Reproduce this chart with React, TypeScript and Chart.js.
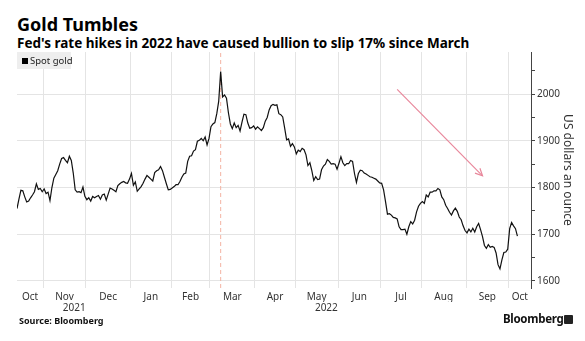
import React, { useEffect, useRef } from "react";
import { Chart, registerables } from "chart.js";

Chart.register(...registerables);

// x values are weekday indices counted from Fri 1 Oct 2021 (index 0)
const firstIndex = 7;
const spotGold = [
  1755, 1775, 1794, 1793, 1780, 1769, 1771, 1778, 1784, 1791,
  1808, 1796, 1798, 1791, 1797, 1787, 1790, 1772, 1800, 1820,
  1828, 1836, 1850, 1862, 1864, 1858, 1853, 1867, 1858, 1831,
  1795, 1790, 1791, 1789, 1801, 1781, 1774, 1778, 1771, 1781,
  1778, 1781, 1783, 1775, 1784, 1786, 1773, 1786, 1799, 1797,
  1794, 1791, 1804, 1808, 1811, 1813, 1810, 1809, 1818, 1830,
  1805, 1812, 1792, 1797, 1802, 1809, 1818, 1826, 1822, 1818,
  1814, 1832, 1836, 1838, 1845, 1836, 1822, 1808, 1795, 1796,
  1799, 1802, 1806, 1806, 1813, 1822, 1829, 1831, 1856, 1867,
  1868, 1878, 1881, 1899, 1901, 1905, 1900, 1908, 1891, 1905,
  1930, 1936, 1939, 1958, 1985, 2048, 1994, 1998, 1991, 1960,
  1936, 1926, 1938, 1928, 1933, 1921, 1940, 1957, 1956, 1938,
  1927, 1928, 1932, 1925, 1930, 1926, 1922, 1928, 1942, 1950,
  1966, 1975, 1978, 1976, 1977, 1958, 1956, 1951, 1927, 1902,
  1904, 1888, 1894, 1887, 1872, 1880, 1877, 1884, 1881, 1870,
  1847, 1853, 1836, 1815, 1823, 1817, 1818, 1838, 1846, 1850,
  1860, 1856, 1850, 1851, 1850, 1839, 1852, 1866, 1853, 1847,
  1851, 1851, 1858, 1856, 1830, 1811, 1830, 1837, 1836, 1831,
  1829, 1826, 1823, 1822, 1820, 1818, 1814, 1810, 1809, 1795,
  1770, 1743, 1744, 1741, 1736, 1735, 1733, 1716, 1710, 1710,
  1711, 1700, 1716, 1727, 1722, 1730, 1748, 1760, 1766, 1770,
  1766, 1784, 1780, 1790, 1790, 1793, 1793, 1798, 1795, 1780,
  1774, 1762, 1755, 1747, 1741, 1750, 1756, 1749, 1737, 1731,
  1718, 1708, 1703, 1711, 1705, 1713, 1705, 1716, 1723, 1710,
  1695, 1676, 1670, 1678, 1672, 1674, 1672, 1660, 1635, 1626,
  1645, 1661, 1662, 1668, 1712, 1725, 1718, 1712, 1696,
];

const monthLabels = ["Oct", "Nov", "Dec", "Jan", "Feb", "Mar", "Apr", "May", "Jun", "Jul", "Aug", "Sep", "Oct"];
const monthWeekdays = [21, 22, 23, 21, 20, 23, 21, 22, 22, 21, 23, 22, 21];
const yearLabels = ["2021", "2022"];
const yearMonthSlots = [1, 7];

const xMin = 7;
const xMax = 272;
const yMin = 1585;
const yMax = 2090;
const yTickValues = [1600, 1650, 1700, 1750, 1800, 1850, 1900, 1950, 2000, 2050];

const peakIndex = 112; // 8 Mar 2022
const arrowFrom = { x: 203, y: 2010 };
const arrowTo = { x: 247, y: 1825 };

const LABEL_FONT = '"Noto Sans", "DejaVu Sans", sans-serif';

// month boundaries in weekday index space
const boundaries: number[] = [];
{
  let acc = -0.5;
  boundaries.push(acc);
  for (const n of monthWeekdays) {
    acc += n;
    boundaries.push(acc);
  }
}
const gridBoundaries = boundaries.slice(1).filter((b) => b > xMin && b < xMax);
const monthCenters = monthLabels.map((_, i) => {
  const a = Math.max(boundaries[i], xMin);
  const b = Math.min(boundaries[i + 1], xMax);
  return (a + b) / 2;
});
const yearCenters = yearMonthSlots.map((m) => monthCenters[m] + 5);

const arrowHeadPlugin = {
  id: "arrowHead",
  afterDatasetsDraw(chart: any) {
    const xs = chart.scales.x;
    const ys = chart.scales.y;
    const x1 = xs.getPixelForValue(arrowFrom.x);
    const y1 = ys.getPixelForValue(arrowFrom.y);
    const x2 = xs.getPixelForValue(arrowTo.x);
    const y2 = ys.getPixelForValue(arrowTo.y);
    const ang = Math.atan2(y2 - y1, x2 - x1);
    const len = 8;
    const spread = 0.45;
    const c = chart.ctx;
    c.save();
    c.strokeStyle = "#e8879b";
    c.lineWidth = 1.2;
    c.beginPath();
    c.moveTo(x2 - len * Math.cos(ang - spread), y2 - len * Math.sin(ang - spread));
    c.lineTo(x2, y2);
    c.lineTo(x2 - len * Math.cos(ang + spread), y2 - len * Math.sin(ang + spread));
    c.stroke();
    c.restore();
  },
};

export default function App() {
  const canvasRef = useRef<HTMLCanvasElement | null>(null);

  useEffect(() => {
    const canvas = canvasRef.current;
    if (!canvas) return;
    const chart = new Chart(canvas, {
      type: "line",
      data: {
        datasets: [
          {
            label: "Spot gold",
            data: spotGold.map((v, i) => ({ x: firstIndex + i, y: v })),
            borderColor: "#111111",
            borderWidth: 1.2,
            pointRadius: 0,
            tension: 0,
            order: 0,
          },
          {
            label: "arrow",
            data: [arrowFrom, arrowTo],
            borderColor: "#e8879b",
            borderWidth: 1.2,
            pointRadius: 0,
            order: 1,
          },
          {
            label: "peak",
            data: [
              { x: peakIndex, y: yMin },
              { x: peakIndex, y: yMax },
            ],
            borderColor: "#f3b3a3",
            borderWidth: 1,
            borderDash: [4, 3],
            pointRadius: 0,
            order: 2,
          },
        ],
      },
      options: {
        animation: false,
        responsive: false,
        maintainAspectRatio: false,
        layout: { padding: { left: 17, top: 52, right: 0, bottom: 27 } },
        plugins: { legend: { display: false }, tooltip: { enabled: false } },
        scales: {
          x: {
            type: "linear",
            position: "bottom",
            min: xMin,
            max: xMax,
            weight: 0,
            afterBuildTicks: (s: any) => {
              s.ticks = gridBoundaries.map((v) => ({ value: v }));
            },
            ticks: { display: false },
            grid: { color: "#e4e4e4", lineWidth: 1, drawTicks: false },
            border: { display: false },
            afterFit: (s: any) => {
              s.height = 0;
            },
          },
          xm: {
            type: "linear",
            position: "bottom",
            min: xMin,
            max: xMax,
            weight: 1,
            afterBuildTicks: (s: any) => {
              s.ticks = monthCenters.map((v) => ({ value: v }));
            },
            ticks: {
              autoSkip: false,
              maxRotation: 0,
              padding: 3,
              color: "#333",
              font: { family: LABEL_FONT, size: 10 },
              callback: (_v: any, i: number) => monthLabels[i],
            },
            grid: { display: false, drawTicks: false },
            border: { display: false },
            afterFit: (s: any) => {
              s.height = 14;
            },
          },
          xy: {
            type: "linear",
            position: "bottom",
            min: xMin,
            max: xMax,
            weight: 2,
            afterBuildTicks: (s: any) => {
              s.ticks = yearCenters.map((v) => ({ value: v }));
            },
            ticks: {
              autoSkip: false,
              maxRotation: 0,
              padding: 0,
              color: "#333",
              font: { family: LABEL_FONT, size: 10 },
              callback: (_v: any, i: number) => yearLabels[i],
            },
            grid: { display: false, drawTicks: false },
            border: { display: false },
            afterFit: (s: any) => {
              s.height = 12;
            },
          },
          y: {
            type: "linear",
            position: "right",
            min: yMin,
            max: yMax,
            afterBuildTicks: (s: any) => {
              s.ticks = yTickValues.map((v) => ({ value: v }));
            },
            ticks: {
              autoSkip: false,
              padding: 2,
              color: "#333",
              font: { family: LABEL_FONT, size: 10 },
              callback: (v: any) => (Number(v) % 100 === 0 ? String(v) : ""),
            },
            grid: {
              color: (ctx: any) =>
                ctx.tick && ctx.tick.value % 100 === 0 ? "#e4e4e4" : "rgba(0,0,0,0)",
              tickColor: "#444",
              tickLength: 4,
              drawTicks: true,
            },
            border: { display: true, color: "#444", width: 1 },
            title: {
              display: true,
              text: "US dollars an ounce",
              color: "#333",
              font: { family: LABEL_FONT, size: 12 },
              padding: { top: 10, bottom: 0 },
            },
            afterFit: (s: any) => {
              s.width = 54;
            },
          },
        },
      },
      plugins: [arrowHeadPlugin],
    } as any);
    return () => chart.destroy();
  }, []);

  return (
    <div
      style={{
        position: "absolute",
        left: 0,
        top: 0,
        width: 585,
        height: 341,
        background: "#ffffff",
        overflow: "hidden",
        fontFamily: LABEL_FONT,
      }}
    >
      <div
        style={{
          position: "absolute",
          left: 17,
          top: 15,
          font: `bold 18px ${LABEL_FONT}`,
          lineHeight: "18px",
          color: "#000",
          whiteSpace: "nowrap",
        }}
      >
        Gold Tumbles
      </div>
      <div
        style={{
          position: "absolute",
          left: 17,
          top: 37,
          font: `bold 13.5px ${LABEL_FONT}`,
          lineHeight: "13.5px",
          color: "#000",
          whiteSpace: "nowrap",
        }}
      >
        Fed's rate hikes in 2022 have caused bullion to slip 17% since March
      </div>
      <canvas
        ref={canvasRef}
        width={585}
        height={341}
        style={{ position: "absolute", left: 0, top: 0, width: 585, height: 341 }}
      />
      <div
        style={{
          position: "absolute",
          left: 17,
          top: 52,
          width: 54,
          height: 17,
          background: "#eeeeee",
          display: "flex",
          alignItems: "center",
          font: `9.5px ${LABEL_FONT}`,
          color: "#222",
          whiteSpace: "nowrap",
        }}
      >
        <span
          style={{
            display: "inline-block",
            flexShrink: 0,
            width: 6,
            height: 6,
            background: "#000",
            marginLeft: 5,
            marginRight: 2,
          }}
        />
        <span>Spot gold</span>
      </div>
      <div
        style={{
          position: "absolute",
          left: 19,
          top: 316,
          font: `bold 9px ${LABEL_FONT}`,
          lineHeight: "10px",
          color: "#111",
          whiteSpace: "nowrap",
        }}
      >
        Source: Bloomberg
      </div>
      <div
        style={{
          position: "absolute",
          left: 503,
          top: 312,
          font: `bold 11.5px ${LABEL_FONT}`,
          lineHeight: "14px",
          letterSpacing: "-0.3px",
          color: "#111",
          whiteSpace: "nowrap",
        }}
      >
        Bloomberg
      </div>
      <div
        style={{
          position: "absolute",
          left: 564,
          top: 315,
          width: 9,
          height: 9,
          background: "#222",
          borderRadius: 1,
        }}
      />
    </div>
  );
}
